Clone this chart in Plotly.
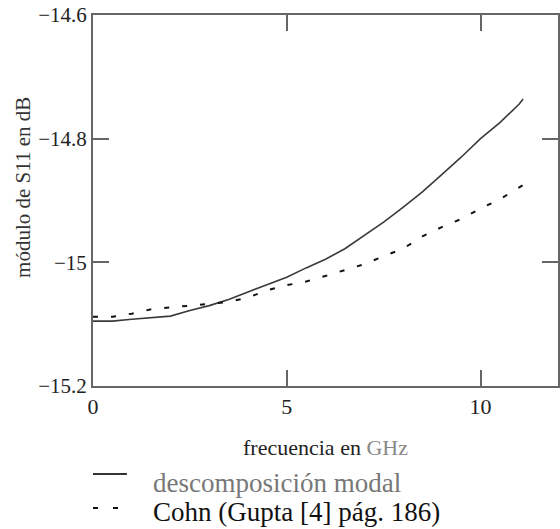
import plotly.graph_objects as go

freq_ghz = [0.0, 0.5, 1.0, 1.5, 2.0, 2.5, 3.0, 3.5, 4.0, 4.5, 5.0, 5.5,
            6.0, 6.5, 7.0, 7.5, 8.0, 8.5, 9.0, 9.5, 10.0, 10.5, 11.0, 11.1]
s11_modal = [-15.095, -15.095, -15.092, -15.089, -15.087, -15.078, -15.070, -15.060,
             -15.048, -15.036, -15.024, -15.009, -14.995, -14.978, -14.957, -14.935,
             -14.911, -14.886, -14.858, -14.830, -14.800, -14.774, -14.744, -14.736]
s11_cohn = [-15.088, -15.088, -15.083, -15.076, -15.073, -15.070, -15.068, -15.064,
            -15.057, -15.045, -15.037, -15.031, -15.022, -15.012, -15.003, -14.990,
            -14.978, -14.958, -14.943, -14.930, -14.913, -14.898, -14.878, -14.875]

x_ticks = [0, 5, 10]
y_ticks = [-15.2, -15.0, -14.8, -14.6]
y_tick_text = ["−15.2", "−15", "−14.8", "−14.6"]

legend_names = ["descomposición modal", "Cohn (Gupta [4] pág. 186)"]

FONT = "Liberation Serif"

fig = go.Figure()
fig.add_trace(go.Scatter(x=freq_ghz, y=s11_modal, mode="lines",
                         line=dict(color="#3a3a3a", width=1.6),
                         name=legend_names[0], showlegend=False))
fig.add_trace(go.Scatter(x=freq_ghz, y=s11_cohn, mode="lines",
                         line=dict(color="#111111", width=2, dash="5px,13px"),
                         name=legend_names[1], showlegend=False))

axis_common = dict(showgrid=False, zeroline=False, showline=True, linecolor="#666666",
                   linewidth=2, mirror="ticks", ticks="inside", ticklen=16,
                   tickwidth=2, tickcolor="#666666", automargin=False)

fig.update_xaxes(range=[0, 12], tickvals=x_ticks,
                 tickfont=dict(family=FONT, size=22, color="#222"),
                 title=dict(text="frecuencia en <span style='color:#888'>GHz</span>",
                            font=dict(family=FONT, size=22, color="#222"), standoff=21),
                 **axis_common)
fig.update_yaxes(range=[-15.2, -14.6], tickvals=y_ticks, ticktext=y_tick_text,
                 tickfont=dict(family=FONT, size=21, color="#222"),
                 **axis_common)

fig.add_annotation(xref="paper", yref="paper", x=-0.1505, y=0.534, xanchor="center",
                   yanchor="middle", showarrow=False, textangle=-90,
                   text="módulo de S11 en dB",
                   font=dict(family=FONT, size=21, color="#333"))

# legend drawn below the x-axis title
fig.add_shape(type="line", xref="paper", yref="paper", x0=0.0, x1=0.073,
              y0=-0.237, y1=-0.237, line=dict(color="#333", width=2))
fig.add_shape(type="line", xref="paper", yref="paper", x0=0.0, x1=0.06,
              y0=-0.329, y1=-0.329, line=dict(color="#111", width=2, dash="5px,15px"))
fig.add_annotation(xref="paper", yref="paper", x=0.124, y=-0.262, xanchor="left",
                   yanchor="middle", showarrow=False, text=legend_names[0],
                   font=dict(family=FONT, size=27, color="#777"))
fig.add_annotation(xref="paper", yref="paper", x=0.124, y=-0.339, xanchor="left",
                   yanchor="middle", showarrow=False, text=legend_names[1],
                   font=dict(family=FONT, size=27, color="#111"))

fig.update_layout(width=560, height=529,
                  margin=dict(l=93, r=2, t=15, b=143, autoexpand=False),
                  plot_bgcolor="white", paper_bgcolor="white", showlegend=False)

fig.write_html("out.html", config={"displayModeBar": False},
               post_script="document.body.style.margin='0';document.body.style.overflow='hidden';")
